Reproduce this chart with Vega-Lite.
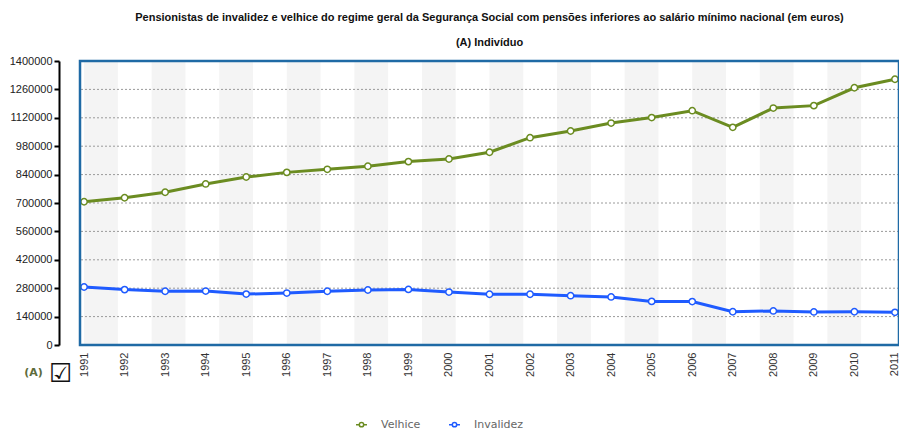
{
  "$schema": "https://vega.github.io/schema/vega-lite/v6.json",
  "width": 819,
  "height": 284,
  "autosize": {"type": "none"},
  "padding": {"left": 80, "top": 61, "right": 0, "bottom": 89},
  "background": "white",
  "config": {
    "view": {"stroke": null},
    "font": "Liberation Sans",
    "axis": {"labelOverlap": false}
  },
  "title": {
    "text": "Pensionistas de invalidez e velhice do regime geral da Segurança Social com pensões inferiores ao salário mínimo nacional (em euros)",
    "subtitle": "(A) Indivíduo",
    "anchor": "middle",
    "font": "Liberation Sans",
    "fontSize": 11,
    "fontWeight": "bold",
    "color": "#111111",
    "subtitleFont": "Liberation Sans",
    "subtitleFontSize": 11,
    "subtitleFontWeight": "bold",
    "subtitleColor": "#111111",
    "subtitlePadding": 14,
    "offset": 7
  },
  "datasets": {
    "stripes": [
      {"x0": 1991, "x1": 1991.8333},
      {"x0": 1992.6667, "x1": 1993.5},
      {"x0": 1994.3333, "x1": 1995.1667},
      {"x0": 1996, "x1": 1996.8333},
      {"x0": 1997.6667, "x1": 1998.5},
      {"x0": 1999.3333, "x1": 2000.1667},
      {"x0": 2001, "x1": 2001.8333},
      {"x0": 2002.6667, "x1": 2003.5},
      {"x0": 2004.3333, "x1": 2005.1667},
      {"x0": 2006, "x1": 2006.8333},
      {"x0": 2007.6667, "x1": 2008.5},
      {"x0": 2009.3333, "x1": 2010.1667}
    ],
    "grid": [
      {"v": 140000}, {"v": 280000}, {"v": 420000}, {"v": 560000}, {"v": 700000},
      {"v": 840000}, {"v": 980000}, {"v": 1120000}, {"v": 1260000}
    ],
    "frame": [{"name": "frame"}],
    "series": [
      {"ano": 1991, "valor": 706000, "serie": "Velhice"},
      {"ano": 1992, "valor": 726000, "serie": "Velhice"},
      {"ano": 1993, "valor": 753000, "serie": "Velhice"},
      {"ano": 1994, "valor": 794000, "serie": "Velhice"},
      {"ano": 1995, "valor": 828000, "serie": "Velhice"},
      {"ano": 1996, "valor": 851000, "serie": "Velhice"},
      {"ano": 1997, "valor": 866000, "serie": "Velhice"},
      {"ano": 1998, "valor": 881000, "serie": "Velhice"},
      {"ano": 1999, "valor": 904000, "serie": "Velhice"},
      {"ano": 2000, "valor": 917000, "serie": "Velhice"},
      {"ano": 2001, "valor": 950000, "serie": "Velhice"},
      {"ano": 2002, "valor": 1022000, "serie": "Velhice"},
      {"ano": 2003, "valor": 1055000, "serie": "Velhice"},
      {"ano": 2004, "valor": 1094000, "serie": "Velhice"},
      {"ano": 2005, "valor": 1121000, "serie": "Velhice"},
      {"ano": 2006, "valor": 1155000, "serie": "Velhice"},
      {"ano": 2007, "valor": 1073000, "serie": "Velhice"},
      {"ano": 2008, "valor": 1168000, "serie": "Velhice"},
      {"ano": 2009, "valor": 1180000, "serie": "Velhice"},
      {"ano": 2010, "valor": 1268000, "serie": "Velhice"},
      {"ano": 2011, "valor": 1310000, "serie": "Velhice"},
      {"ano": 1991, "valor": 286000, "serie": "Invalidez"},
      {"ano": 1992, "valor": 273000, "serie": "Invalidez"},
      {"ano": 1993, "valor": 265000, "serie": "Invalidez"},
      {"ano": 1994, "valor": 266000, "serie": "Invalidez"},
      {"ano": 1995, "valor": 251000, "serie": "Invalidez"},
      {"ano": 1996, "valor": 256000, "serie": "Invalidez"},
      {"ano": 1997, "valor": 265000, "serie": "Invalidez"},
      {"ano": 1998, "valor": 271000, "serie": "Invalidez"},
      {"ano": 1999, "valor": 274000, "serie": "Invalidez"},
      {"ano": 2000, "valor": 261000, "serie": "Invalidez"},
      {"ano": 2001, "valor": 250000, "serie": "Invalidez"},
      {"ano": 2002, "valor": 250000, "serie": "Invalidez"},
      {"ano": 2003, "valor": 243000, "serie": "Invalidez"},
      {"ano": 2004, "valor": 237000, "serie": "Invalidez"},
      {"ano": 2005, "valor": 215000, "serie": "Invalidez"},
      {"ano": 2006, "valor": 214000, "serie": "Invalidez"},
      {"ano": 2007, "valor": 164000, "serie": "Invalidez"},
      {"ano": 2008, "valor": 168000, "serie": "Invalidez"},
      {"ano": 2009, "valor": 163000, "serie": "Invalidez"},
      {"ano": 2010, "valor": 164000, "serie": "Invalidez"},
      {"ano": 2011, "valor": 161000, "serie": "Invalidez"}
    ]
  },
  "layer": [
    {
      "data": {"name": "stripes"},
      "mark": {"type": "rect", "color": "#f4f4f4"},
      "encoding": {
        "x": {"field": "x0", "type": "quantitative", "scale": {"domain": [1990.9, 2011.1], "nice": false, "zero": false}},
        "x2": {"field": "x1"}
      }
    },
    {
      "data": {"name": "grid"},
      "mark": {"type": "rule", "strokeDash": [2, 2], "color": "#9a9a9a", "strokeWidth": 1},
      "encoding": {
        "y": {"field": "v", "type": "quantitative"}
      }
    },
    {
      "data": {"name": "series"},
      "mark": {"type": "line", "strokeWidth": 3},
      "encoding": {
        "x": {
          "field": "ano", "type": "quantitative",
          "scale": {"domain": [1990.9, 2011.1], "nice": false, "zero": false},
          "axis": {
            "values": [1991,1992,1993,1994,1995,1996,1997,1998,1999,2000,2001,2002,2003,2004,2005,2006,2007,2008,2009,2010,2011],
            "tickCount": 30,
            "format": "d",
            "labelAngle": 270,
            "labelAlign": "right",
            "labelBaseline": "middle",
            "labelFont": "Liberation Sans",
            "labelFontSize": 11,
            "labelColor": "#333333",
            "labelPadding": 7,
            "domain": false,
            "ticks": false,
            "grid": false,
            "labelOverlap": false,
            "title": "☑",
            "titleFont": "DejaVu Sans",
            "titleFontSize": 26,
            "titleFontWeight": "normal",
            "titleColor": "#111111",
            "titleX": -20,
            "titleY": 28,
            "titleAlign": "center",
            "titleBaseline": "middle",
            "titleAngle": 0
          }
        },
        "y": {
          "field": "valor", "type": "quantitative",
          "scale": {"domain": [0, 1400000], "nice": false},
          "axis": {
            "values": [0,140000,280000,420000,560000,700000,840000,980000,1120000,1260000,1400000],
            "tickCount": 20,
            "format": "d",
            "offset": 21,
            "domainColor": "#000000",
            "domainWidth": 2,
            "tickColor": "#000000",
            "tickWidth": 2,
            "tickSize": 5,
            "labelPadding": 2,
            "labelOverlap": false,
            "labelFont": "Liberation Sans",
            "labelFontSize": 11,
            "labelColor": "#222222",
            "grid": false,
            "title": "(A)",
            "titleFont": "DejaVu Sans",
            "titleFontSize": 11,
            "titleFontWeight": "bold",
            "titleColor": "#5e6b3a",
            "titleAngle": 0,
            "titleX": -26,
            "titleY": 311,
            "titleAlign": "center",
            "titleBaseline": "middle"
          }
        },
        "color": {
          "field": "serie", "type": "nominal",
          "scale": {"domain": ["Velhice", "Invalidez"], "range": ["#6b8c21", "#1f5bff"]},
          "legend": {
            "title": null,
            "orient": "none",
            "direction": "horizontal",
            "legendX": 275,
            "legendY": 357,
            "symbolType": "M-1,0H-0.4M0.4,0H1M-0.4,0A0.4,0.4 0 1,0 0.4,0A0.4,0.4 0 1,0 -0.4,0",
            "symbolFillColor": "white",
            "symbolStrokeWidth": 1.5,
            "symbolSize": 120,
            "labelFont": "DejaVu Sans",
            "labelFontSize": 11,
            "labelColor": "#666666",
            "labelOffset": 13,
            "columnPadding": 25
          }
        }
      }
    },
    {
      "data": {"name": "series"},
      "mark": {"type": "point", "filled": true, "fill": "white", "size": 40, "strokeWidth": 1.5, "opacity": 1},
      "encoding": {
        "x": {"field": "ano", "type": "quantitative"},
        "y": {"field": "valor", "type": "quantitative"},
        "stroke": {"field": "serie", "type": "nominal", "scale": {"domain": ["Velhice", "Invalidez"], "range": ["#6b8c21", "#1f5bff"]}, "legend": null}
      }
    },
    {
      "data": {"name": "frame"},
      "mark": {"type": "rect", "fill": null, "fillOpacity": 0, "stroke": "#1f6aa5", "strokeWidth": 2.5},
      "encoding": {}
    }
  ]
}
